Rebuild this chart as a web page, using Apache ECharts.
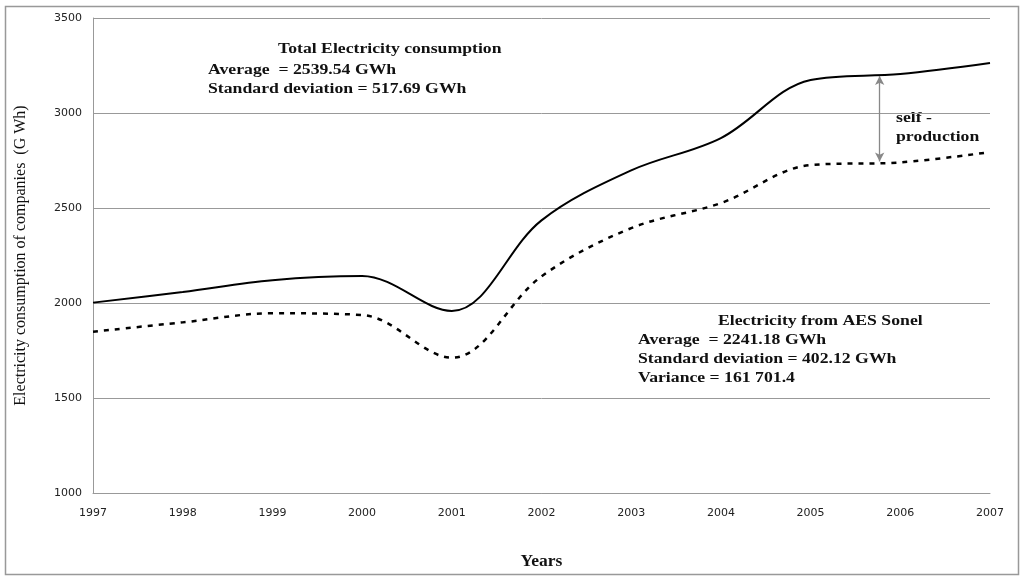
<!DOCTYPE html>
<html>
<head>
<meta charset="utf-8">
<script src="https://cdn.jsdelivr.net/npm/echarts@6/dist/echarts.min.js"></script>
<style>
html,body{margin:0;padding:0;background:#fff;}
#c{width:1024px;height:578px;}
</style>
</head>
<body>
<div id="c"></div>
<script>
var years = [1997, 1998, 1999, 2000, 2001, 2002, 2003, 2004, 2005, 2006, 2007];
var totalConsumption = [2002, 2058, 2120, 2142, 1958, 2435, 2698, 2868, 3174, 3205, 3263];
var aesSonel = [1849, 1898, 1946, 1937, 1712, 2140, 2394, 2526, 2726, 2740, 2794];
var yTicks = [1000, 1500, 2000, 2500, 3000, 3500];
var selfProductionYear = 2005.77;

function pairs(xs, ys){ return xs.map(function(x,i){ return [x, ys[i]]; }); }

var serif = '"Liberation Serif", "Times New Roman", serif';
var sans = '"DejaVu Sans", sans-serif';
var chart = echarts.init(document.getElementById('c'));
var txt = function(x, y, text){
  return {type:'text', x:x, y:y, scaleX:1.18, silent:true,
    style:{text:text, font:'bold 15px ' + serif, fill:'#111', verticalAlign:'middle', align:'left'}};
};
chart.setOption({
  animation:false,
  backgroundColor:'#fff',
  grid:{left:93, right:34, top:18, bottom:85},
  xAxis:{
    type:'value', min:years[0], max:years[years.length-1], interval:1,
    name:'Years', nameLocation:'middle', nameGap:59,
    nameTextStyle:{fontFamily:serif, fontWeight:'bold', fontSize:17.5, color:'#111'},
    axisLine:{show:true, lineStyle:{color:'#999'}},
    axisTick:{show:false},
    splitLine:{show:false},
    axisLabel:{formatter:function(v){return String(v);}, fontFamily:sans, fontSize:11, color:'#222', margin:15}
  },
  yAxis:{
    type:'value', min:yTicks[0], max:yTicks[yTicks.length-1], interval:500,
    name:'Electricity consumption of companies  (G Wh)', nameLocation:'middle', nameGap:64, nameRotate:90,
    nameTextStyle:{fontFamily:serif, fontSize:16, color:'#111'},
    axisLine:{show:true, lineStyle:{color:'#999'}},
    axisTick:{show:false},
    splitLine:{show:true, lineStyle:{color:'#999', width:1}},
    axisLabel:{formatter:function(v){return String(v);}, fontFamily:sans, fontSize:11, color:'#222', margin:11}
  },
  series:[
    {
      type:'line', name:'Total Electricity consumption', data:pairs(years, totalConsumption),
      smooth:0.35, showSymbol:false, lineStyle:{color:'#000', width:2},
      markLine:{
        silent:true, symbol:['arrow','arrow'], symbolSize:[7,9],
        lineStyle:{color:'#888', width:1.3, type:'solid'}, label:{show:false},
        data:[[{coord:[selfProductionYear, 3195]},{coord:[selfProductionYear, 2745]}]]
      }
    },
    {
      type:'line', name:'Electricity from AES Sonel', data:pairs(years, aesSonel),
      smooth:0.35, showSymbol:false, lineStyle:{color:'#000', width:2.5, type:[5,6]}
    }
  ],
  graphic:[
    {type:'rect', shape:{x:5.5, y:6.5, width:1013, height:568}, style:{fill:null, stroke:'#999', lineWidth:1.5}, silent:true},
    txt(278, 49, 'Total Electricity consumption'),
    txt(208, 70, 'Average  = 2539.54 GWh'),
    txt(208, 89, 'Standard deviation = 517.69 GWh'),
    txt(718, 321, 'Electricity from AES Sonel'),
    txt(638, 340, 'Average  = 2241.18 GWh'),
    txt(638, 359, 'Standard deviation = 402.12 GWh'),
    txt(638, 378, 'Variance = 161 701.4'),
    txt(896, 118, 'self -'),
    txt(896, 137, 'production')
  ]
});
</script>
</body>
</html>
